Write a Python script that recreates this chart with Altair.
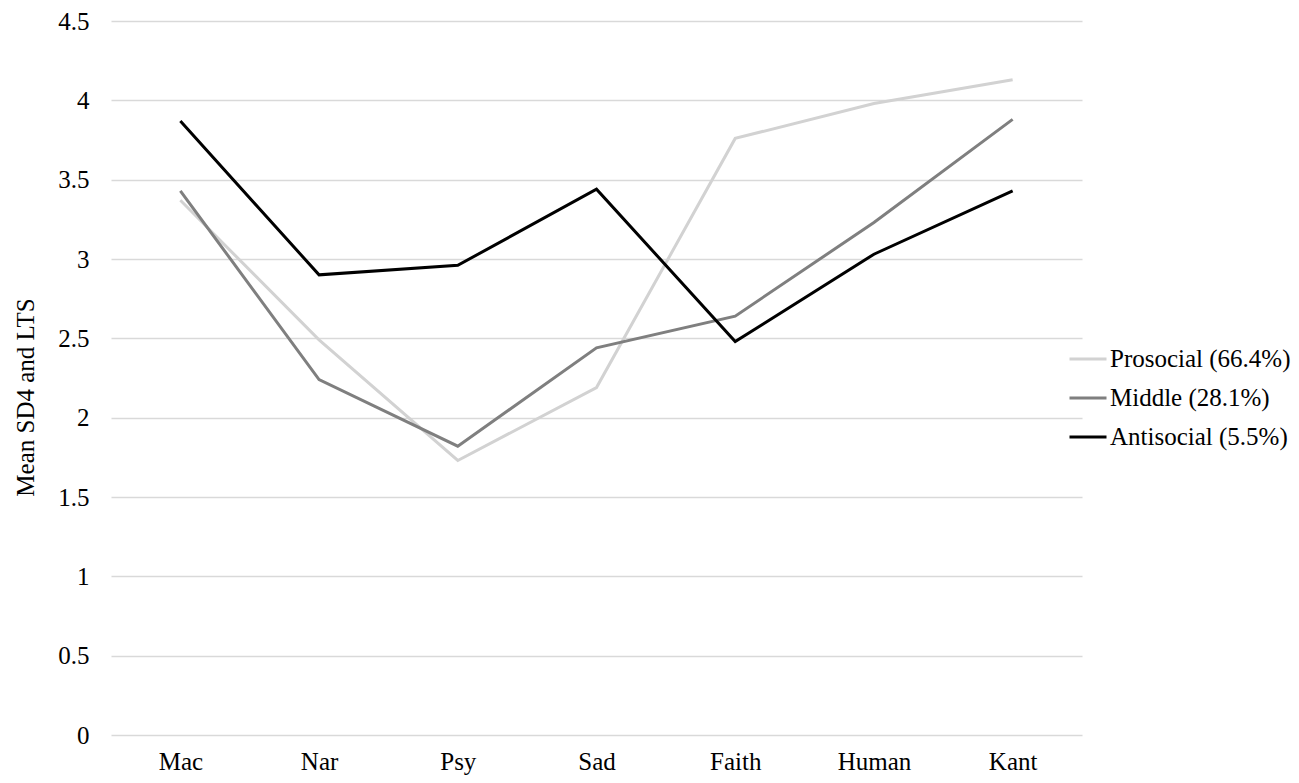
import altair as alt
import pandas as pd

traits = ["Mac", "Nar", "Psy", "Sad", "Faith", "Human", "Kant"]
prosocial = [3.37, 2.49, 1.73, 2.19, 3.76, 3.98, 4.13]
middle = [3.43, 2.24, 1.82, 2.44, 2.64, 3.23, 3.88]
antisocial = [3.87, 2.90, 2.96, 3.44, 2.48, 3.03, 3.43]
groups = ["Prosocial (66.4%)", "Middle (28.1%)", "Antisocial (5.5%)"]
colors = ["#d2d2d2", "#7f7f7f", "#000000"]
y_ticks = [0, 0.5, 1, 1.5, 2, 2.5, 3, 3.5, 4, 4.5]

rows = []
for g, vals in zip(groups, [prosocial, middle, antisocial]):
    for t, v in zip(traits, vals):
        rows.append({"trait": t, "value": v, "group": g})
df = pd.DataFrame(rows)

FONT = "Liberation Serif, Times New Roman, DejaVu Serif, serif"

chart = alt.Chart(df).mark_line(strokeWidth=3).encode(
    x=alt.X("trait:N", sort=traits, title=None,
            scale=alt.Scale(type="point", padding=0.5),
            axis=alt.Axis(labelAngle=0, ticks=False, domain=False, grid=False,
                          labelFont=FONT, labelFontSize=25, labelColor="#000000",
                          labelBaseline="alphabetic", labelPadding=34)),
    y=alt.Y("value:Q", title="Mean SD4 and LTS",
            scale=alt.Scale(domain=[0, 4.5], nice=False, zero=True),
            axis=alt.Axis(values=y_ticks, format="~g",
                          ticks=False, domain=False, grid=True,
                          gridColor="#d9d9d9", gridWidth=1.5,
                          labelFont=FONT, labelFontSize=25, labelColor="#000000",
                          labelPadding=22,
                          titleFont=FONT, titleFontSize=25, titleFontWeight="normal",
                          titleColor="#000000", titleAngle=270,
                          titleX=-78, titleY=376, titleAlign="center",
                          titleBaseline="alphabetic")),
    color=alt.Color("group:N", sort=groups,
                    scale=alt.Scale(domain=groups, range=colors),
                    legend=alt.Legend(title=None, orient="none",
                                      legendX=957, legendY=318,
                                      symbolType="stroke", symbolSize=1369,
                                      symbolStrokeWidth=3, labelOffset=2,
                                      labelFont=FONT, labelFontSize=25,
                                      labelColor="#000000", rowPadding=6,
                                      padding=0, labelLimit=400)),
).properties(
    width=971, height=714,
    autosize=alt.AutoSizeParams(type="none"),
    padding={"left": 103, "top": 13, "right": 209, "bottom": 40},
).configure(
    background="white", font=FONT
).configure_view(stroke=None)

chart.save("out.html", embed_options={"renderer": "svg", "actions": False})
